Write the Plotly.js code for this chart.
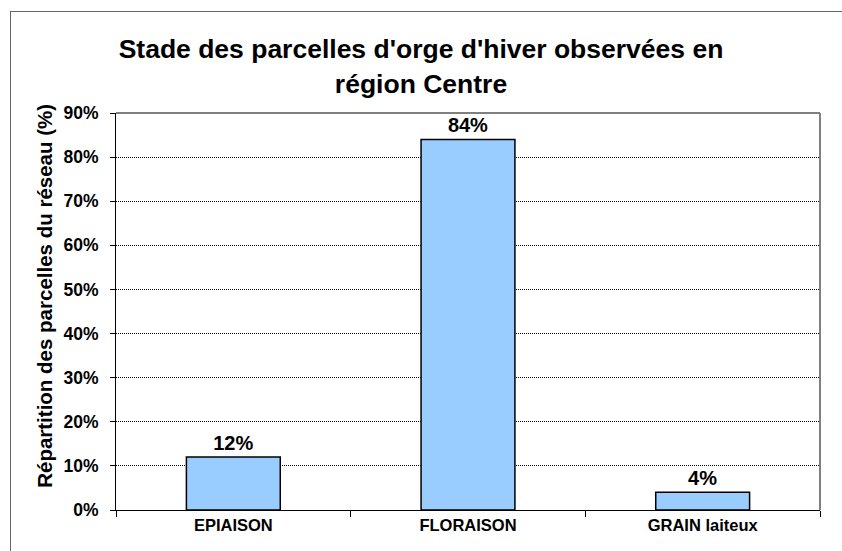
<!DOCTYPE html>
<html>
<head>
<meta charset="utf-8">
<script src="https://cdn.plot.ly/plotly-3.0.1.min.js"></script>
<style>
  html, body { margin: 0; padding: 0; background: #fff; overflow: hidden; }
  #wrap { position: relative; width: 842px; height: 551px; overflow: hidden; }
  #frame { position: absolute; left: 10px; top: 11px; width: 900px; height: 600px; border: 1px solid #666; box-sizing: border-box; }
  #chart { position: absolute; left: 0; top: 0; width: 842px; height: 551px; }
</style>
</head>
<body>
<div id="wrap">
  <div id="frame"></div>
  <div id="chart"></div>
</div>
<script>
const categories = ["EPIAISON", "FLORAISON", "GRAIN laiteux"];
const values = [0.12, 0.84, 0.04];
const labels = ["12%", "84%", "4%"];
const titleText = "Stade des parcelles d'orge d'hiver observées en<br>région Centre";
const yTitleText = "Répartition des parcelles du réseau (%)";

const FONT = "Liberation Sans, Arial, sans-serif";

const trace = {
  type: "bar",
  x: categories,
  y: values,
  text: labels,
  textposition: "outside",
  cliponaxis: false,
  textfont: { family: FONT, size: 20, color: "#000", weight: "bold" },
  marker: { color: "#99CCFF", line: { color: "#000", width: 1.5 } },
  hoverinfo: "x+y"
};

const layout = {
  width: 842, height: 551,
  margin: { l: 116, r: 22, t: 113, b: 41 },
  paper_bgcolor: "rgba(0,0,0,0)",
  plot_bgcolor: "#fff",
  showlegend: false,
  bargap: 0.6,
  font: { family: FONT, color: "#000" },
  title: {
    text: titleText,
    font: { family: FONT, size: 26.5, color: "#000", weight: "bold" },
    x: 0.5, xref: "container", xanchor: "center",
    y: 0.894, yref: "container", yanchor: "middle"
  },
  xaxis: {
    type: "category",
    showline: true, linecolor: "#000", linewidth: 1,
    ticks: "outside", tickson: "boundaries", ticklen: 6, tickcolor: "#000",
    tickfont: { family: FONT, size: 16.5, color: "#000", weight: "bold" },
    showgrid: false, zeroline: false, fixedrange: true
  },
  yaxis: {
    range: [0, 0.9], dtick: 0.1, tickformat: ".0%",
    showline: true, linecolor: "#000", linewidth: 1,
    ticks: "outside", ticklen: 5, tickcolor: "#000",
    ticklabelstandoff: 8,
    tickfont: { family: FONT, size: 17.5, color: "#000", weight: "bold" },
    showgrid: true, gridcolor: "#000", gridwidth: 1, griddash: "1px,1px",
    zeroline: false, fixedrange: true
  },
  annotations: [
    {
      text: yTitleText, textangle: -90, showarrow: false,
      xref: "paper", yref: "paper", x: -0.102, y: 0.54,
      xanchor: "center", yanchor: "middle",
      font: { family: FONT, size: 20.5, color: "#000", weight: "bold" }
    }
  ],
  shapes: [
    { type: "line", xref: "paper", yref: "paper", x0: 0, x1: 1, y0: 1, y1: 1, line: { color: "#808080", width: 2 }, layer: "above" },
    { type: "line", xref: "paper", yref: "paper", x0: 1, x1: 1, y0: 0, y1: 1, line: { color: "#808080", width: 2 }, layer: "above" }
  ]
};

Plotly.newPlot("chart", [trace], layout, { displayModeBar: false, staticPlot: true });
</script>
</body>
</html>
